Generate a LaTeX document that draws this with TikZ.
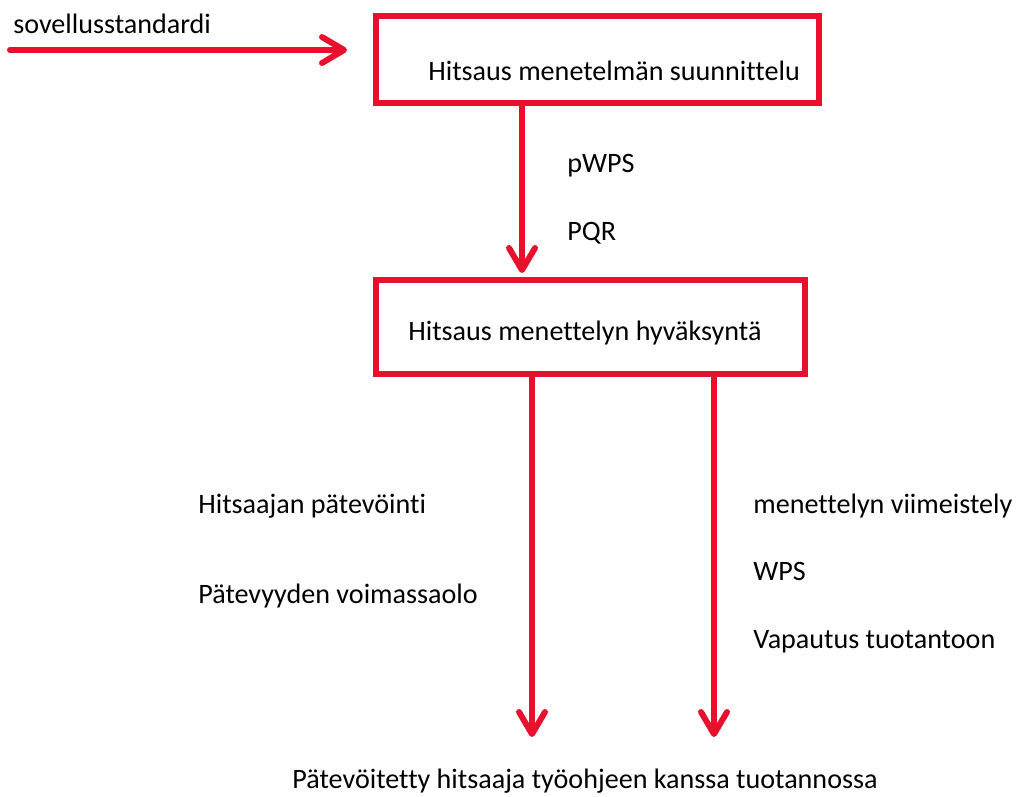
\documentclass[tikz,border=0pt]{standalone}
\usepackage{fontspec}
\setmainfont{Carlito}[Ligatures=CommonOff]
\usetikzlibrary{arrows.meta}
\definecolor{flowred}{RGB}{232,17,45}
\begin{document}
\begin{tikzpicture}[x=0.02cm,y=-0.02cm,>={Straight Barb[round,length=4.4mm,width=5.2mm]},
  font=\fontsize{16}{19}\selectfont,line cap=round,
  box/.style={draw=flowred,line width=3.4pt,rectangle,inner sep=0pt},
  flow/.style={->,draw=flowred,line width=3.4pt},
  txt/.style={anchor=base west,inner sep=0pt}]
\useasboundingbox (0,0) rectangle (1016,796);
% boxes
\node[box,minimum width=8.86cm,minimum height=1.74cm] (plan) at (597.5,59.5) {};
\node[txt] (plantext) at (428,80) {Hitsaus menetelmän suunnittelu};
\node[box,minimum width=8.58cm,minimum height=1.88cm] (approve) at (590.5,327) {};
\node[txt] (approvetext) at (408,340) {Hitsaus menettelyn hyväksyntä};
% input standard
\coordinate (stdstart) at (10,50);
\coordinate (stdtip) at (347,50);
\draw[flow] (stdstart) -- (stdtip);
\node[txt] (std) at (13,33) {sovellusstandardi};
% plan -> approval
\coordinate (pqrtip) at (522,273);
\draw[flow] (plan.south -| pqrtip) -- (pqrtip);
\node[txt] (pwps) at (567,172) {pWPS};
\node[txt] (pqr) at (567,240) {PQR};
% approval -> production
\coordinate (weldertip) at (532,737);
\coordinate (wpstip) at (714,737);
\draw[flow] (approve.south -| weldertip) -- (weldertip);
\draw[flow] (approve.south -| wpstip) -- (wpstip);
\node[txt] (welder) at (198,513) {Hitsaajan pätevöinti};
\node[txt] (valid) at (198,603) {Pätevyyden voimassaolo};
\node[txt] (finish) at (753,513) {menettelyn viimeistely};
\node[txt] (wps) at (753,580) {WPS};
\node[txt] (release) at (753,648) {Vapautus tuotantoon};
\node[anchor=base,inner sep=0pt] (result) at (585,788) {Pätevöitetty hitsaaja työohjeen kanssa tuotannossa};
\end{tikzpicture}
\end{document}
